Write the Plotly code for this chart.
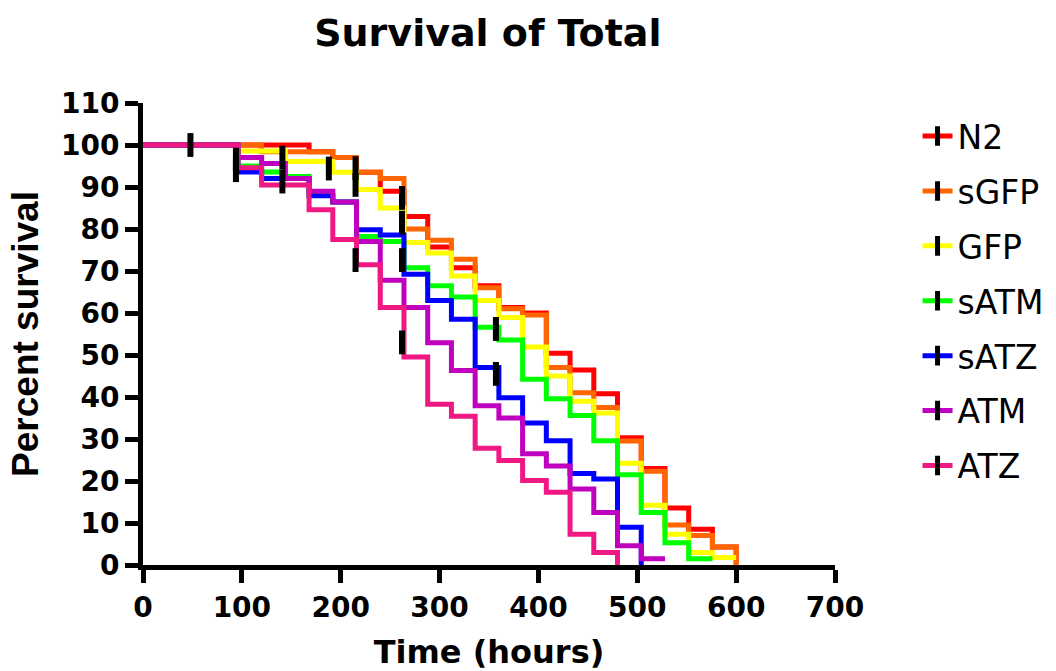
import plotly.graph_objects as go

# Observation times (hours)
times = [0, 96, 120, 144, 168, 192, 216, 240, 264, 288, 312, 336, 360, 384,
         408, 432, 456, 480, 504, 528, 552, 576, 600]

series_names = ["N2", "sGFP", "GFP", "sATM", "sATZ", "ATM", "ATZ"]
series_colors = ["#FF0000", "#FF6600", "#FFFF00", "#00FF00", "#0000FF", "#BF00BF", "#F01882"]

# Percent survival after each time point (Kaplan-Meier steps)
surv_N2 = [100, 100, 100, 100, 98.4, 97, 93.5, 89, 83, 75.7, 70.8, 66.5, 61.3, 60,
           50.4, 46.4, 40.8, 30.3, 23, 13.6, 8.5, 4.3, 0]
surv_sGFP = [100, 100, 98.4, 98.4, 98.4, 97, 93.5, 92, 80, 77.3, 72.8, 66, 61, 59.5,
             47, 41, 37.5, 29.5, 22.3, 9.5, 7, 4.3, 0]
surv_GFP = [100, 98.6, 98.6, 96.1, 96.1, 93.5, 89.4, 85, 76.8, 74.3, 68.8, 63, 58.9, 51.9,
            45, 39, 36.2, 24.2, 14.2, 7.3, 3, 1.8, 1.8]
surv_sATM = [100, 95, 93.6, 92.5, 88, 86.4, 78.2, 77, 70.8, 66.5, 63.8, 56.6, 53.6, 44.2,
             39.6, 35.6, 29.6, 21.5, 12.5, 5.3, 1.5, 1.5]
surv_sATZ = [100, 93.6, 92, 92, 87.9, 86.4, 79.8, 78.6, 69.2, 63, 58.5, 47, 39.8, 33.8,
             29.6, 21.8, 20.5, 9, 0]
surv_ATM = [100, 97, 95.6, 92, 89, 86.4, 77, 67.8, 61.3, 52.9, 46.3, 37.9, 35, 26.5,
            23.6, 18.1, 12.5, 4.6, 1.5, 1.5]
surv_ATZ = [100, 94.6, 90.5, 90.5, 84.6, 77.5, 71.5, 61.3, 49.5, 38.3, 35.4, 27.8, 24.9,
            20.1, 17.3, 7.3, 3, 0]

# Censored observations (time, percent)
cens_t_N2, cens_y_N2 = [262], [81.5]
cens_t_sGFP, cens_y_sGFP = [262], [87.4]
cens_t_GFP, cens_y_GFP = [94, 141, 188, 215], [96.5, 97, 94.4, 94.5]
cens_t_sATM, cens_y_sATM = [262, 357], [72.6, 56.2]
cens_t_sATZ, cens_y_sATZ = [94, 141, 215, 357], [94, 91.3, 90.5, 45.5]
cens_t_ATM, cens_y_ATM = [], []
cens_t_ATZ, cens_y_ATZ = [48, 215, 262], [100, 72.6, 53]

survs = [surv_N2, surv_sGFP, surv_GFP, surv_sATM, surv_sATZ, surv_ATM, surv_ATZ]
cens = [(cens_t_N2, cens_y_N2), (cens_t_sGFP, cens_y_sGFP), (cens_t_GFP, cens_y_GFP),
        (cens_t_sATM, cens_y_sATM), (cens_t_sATZ, cens_y_sATZ), (cens_t_ATM, cens_y_ATM),
        (cens_t_ATZ, cens_y_ATZ)]

WIDE = "DejaVu Sans, Verdana, sans-serif"
NARROW = "Liberation Sans, Arial, Helvetica, sans-serif"
LW = 5

fig = go.Figure()

# step lines
for name, col, s in zip(series_names, series_colors, survs):
    fig.add_trace(go.Scatter(
        x=times[:len(s)], y=s, mode="lines", line=dict(color=col, width=LW, shape="hv"),
        name=name, showlegend=False, legendgroup=name, hoverinfo="x+y+name"))

# censor ticks
for name, (ct, cy) in zip(series_names, cens):
    if ct:
        fig.add_trace(go.Scatter(
            x=ct, y=cy, mode="markers", showlegend=False, legendgroup=name,
            marker=dict(symbol="line-ns", size=17, color="black",
                        line=dict(color="black", width=6)),
            name=name))

# legend entries
for name, col in zip(series_names, series_colors):
    fig.add_trace(go.Scatter(
        x=[None], y=[None], mode="lines+markers", name=name, legendgroup=name,
        line=dict(color=col, width=LW),
        marker=dict(symbol="line-ns", size=14, color="black",
                    line=dict(color="black", width=5))))

axis_common = dict(
    showline=True, linecolor="black", linewidth=5, mirror=False,
    ticks="outside", ticklen=13, tickwidth=5, tickcolor="black",
    showgrid=False, zeroline=False,
    tickfont=dict(family=WIDE, size=28, color="black", weight="bold"),
)

fig.update_layout(
    width=1056, height=671,
    margin=dict(l=143, r=221, t=103, b=106, autoexpand=False),
    paper_bgcolor="white", plot_bgcolor="white",
    title=dict(text="Survival of Total", x=0.462, xanchor="center", y=1 - 33 / 671,
               yanchor="middle", yref="container",
               font=dict(family=WIDE, size=38, color="black", weight="bold")),
    xaxis=dict(range=[0, 700], tickmode="array", tickvals=list(range(0, 701, 100)),
               title=dict(text="Time (hours)", standoff=23,
                          font=dict(family=WIDE, size=32, color="black", weight="bold")),
               **axis_common),
    yaxis=dict(range=[0, 110], tickmode="array", tickvals=list(range(0, 111, 10)),
               title=dict(text="Percent survival", standoff=12,
                          font=dict(family=NARROW, size=37, color="black", weight="bold")),
               **axis_common),
    legend=dict(x=1.1193, xanchor="left", y=0.989, yanchor="top",
                font=dict(family=WIDE, size=33, color="black"),
                tracegroupgap=9, traceorder="grouped", bgcolor="rgba(0,0,0,0)"),
    showlegend=True,
)

fig.write_html("out.html")
